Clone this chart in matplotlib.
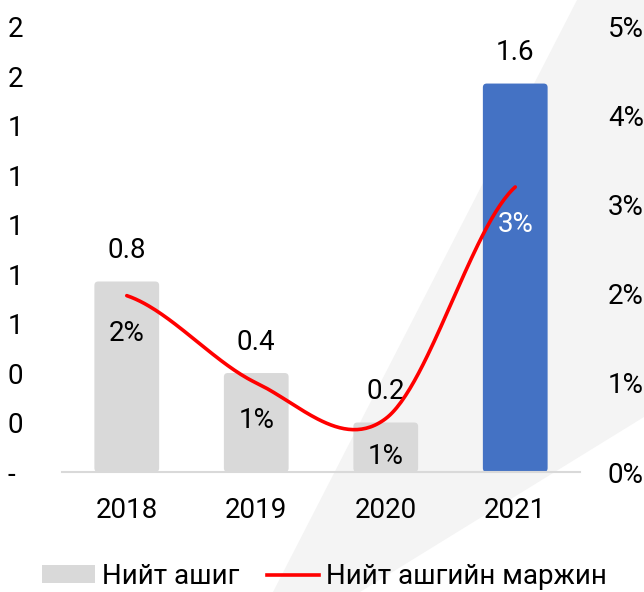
import matplotlib
matplotlib.use("Agg")
import matplotlib.pyplot as plt
import numpy as np
from matplotlib.patches import FancyBboxPatch, Polygon, Patch
from matplotlib.lines import Line2D
from matplotlib.ticker import FuncFormatter

plt.rcParams['font.family'] = ['Roboto', 'DejaVu Sans']

# Данные
anuud = ["2018", "2019", "2020", "2021"]
ashig = [0.77, 0.40, 0.20, 1.57]
ashig_label = ["0.8", "0.4", "0.2", "1.6"]
marjin = [0.0198, 0.0100, 0.0060, 0.0320]
marjin_label = ["2%", "1%", "1%", "3%"]
bar_colors = ["#d9d9d9", "#d9d9d9", "#d9d9d9", "#4472c4"]
marjin_label_colors = ["#000000", "#000000", "#000000", "#ffffff"]

FS = 20

fig = plt.figure(figsize=(6.44, 5.92), dpi=100)
fig.patch.set_facecolor("white")

# фоны саарал дүрс (арын тэнхлэг дээр)
bg = fig.add_axes([0, 0, 1, 1], zorder=-10)
bg.set_xlim(0, 1)
bg.set_ylim(0, 1)
bg.axis("off")
bg.add_patch(Polygon([(577/644, 1), (1, 1), (1, 1 - 417/592), (360/644, 0), (273/644, 0)],
                     closed=True, facecolor="#f4f4f4", edgecolor="none"))

ax = fig.add_axes([0.0963, 0.2027, 0.8043, 0.7523])
ax.patch.set_visible(False)
x = np.arange(len(anuud))

bars = ax.bar(x, ashig, width=0.5, color=bar_colors, zorder=2)
# булантай баганууд
for b, c in zip(bars, bar_colors):
    bx, by = b.get_x(), b.get_y()
    bw, bh = b.get_width(), b.get_height()
    b.remove()
    ax.add_patch(FancyBboxPatch((bx, by), bw, bh,
                                boxstyle="round,pad=0,rounding_size=0.03",
                                mutation_aspect=0.524, facecolor=c, edgecolor="none", zorder=2))

ax.set_xlim(-0.5, 3.5)
ax.set_ylim(0, 1.8)
ax.set_yticks(np.arange(0, 1.81, 0.2))
ax.yaxis.set_major_formatter(FuncFormatter(lambda v, p: "-" if abs(v) < 1e-9 else f"{v:.0f}"))
ax.set_xticks(x)
ax.set_xticklabels(anuud)
ax.tick_params(axis="y", length=0, pad=39, labelsize=FS)
ax.tick_params(axis="x", length=0, pad=18, labelsize=FS)
for t in ax.get_yticklabels():
    t.set_horizontalalignment("left")
for s in ["top", "left", "right"]:
    ax.spines[s].set_visible(False)
ax.spines["bottom"].set_color("#d9d9d9")
ax.spines["bottom"].set_linewidth(1.5)

for xi, v, lab in zip(x, ashig, ashig_label):
    ax.annotate(lab, (xi, v), xytext=(0, 22), textcoords="offset points",
                ha="center", va="center", fontsize=FS, color="#000000")

ax2 = ax.twinx()
ax2.patch.set_visible(False)
ax2.set_ylim(0, 0.05)
ax2.set_yticks(np.arange(0, 0.0501, 0.01))
ax2.yaxis.set_major_formatter(FuncFormatter(lambda v, p: f"{v*100:.0f}%"))
ax2.tick_params(axis="y", length=0, pad=20, labelsize=FS)
for s in ["top", "left", "right", "bottom"]:
    ax2.spines[s].set_visible(False)

# Excel маягийн гөлгөр шугам
pts = np.array(marjin)
ext = np.concatenate([[pts[0]], pts, [pts[-1]]])
xs, ys = [], []
t = np.linspace(0, 1, 60)
for i in range(len(pts) - 1):
    p0, p1 = pts[i], pts[i + 1]
    c1 = p0 + (ext[i + 2] - ext[i]) / 6
    c2 = p1 - (ext[i + 3] - ext[i + 1]) / 6
    yy = (1 - t)**3 * p0 + 3 * (1 - t)**2 * t * c1 + 3 * (1 - t) * t**2 * c2 + t**3 * p1
    xx = x[i] + t * (x[i + 1] - x[i])
    xs.extend(xx)
    ys.extend(yy)
ax2.plot(xs, ys, color="#ff0000", lw=2.6, solid_capstyle="round", zorder=3)

for xi, v, lab, c in zip(x, marjin, marjin_label, marjin_label_colors):
    ax2.annotate(lab, (xi, v), xytext=(0, -27), textcoords="offset points",
                 ha="center", va="center", fontsize=FS, color=c, zorder=4)

handles = [Patch(facecolor="#d9d9d9", edgecolor="none"),
           Line2D([0], [0], color="#ff0000", lw=2.6)]
fig.legend(handles, ["Нийт ашиг", "Нийт ашгийн маржин"], loc="center",
           bbox_to_anchor=(0.504, 0.026), ncol=2, frameon=False, fontsize=FS,
           handlelength=1.9, handleheight=0.6, handletextpad=0.25, columnspacing=1.0)

fig.savefig("out.png", dpi=100)
